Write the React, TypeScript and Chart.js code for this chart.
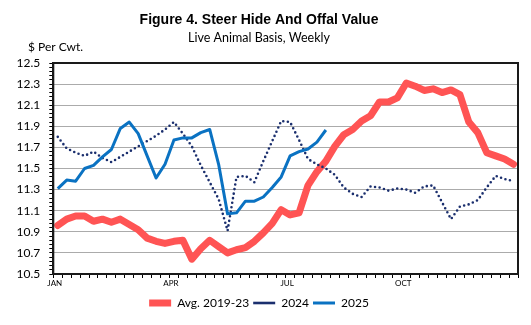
import React, { useEffect, useRef } from 'react';
import { Chart, registerables } from 'chart.js';

Chart.register(...registerables);

// ---- data (weekly, $ per cwt) ----
const monthLabels = ['JAN', 'APR', 'JUL', 'OCT'];
const monthWeekIndex = [0, 13, 26, 39];
const weekCount = 52;

const avg2019_23 = [
  10.96, 11.02, 11.05, 11.05, 11.0, 11.02, 10.99, 11.02, 10.97, 10.92,
  10.84, 10.81, 10.79, 10.81, 10.82, 10.64, 10.74, 10.82, 10.76, 10.7,
  10.73, 10.75, 10.81, 10.89, 10.98, 11.11, 11.06, 11.08, 11.34, 11.47,
  11.57, 11.71, 11.82, 11.87, 11.95, 12.0, 12.13, 12.13, 12.17, 12.31,
  12.28, 12.24, 12.255, 12.22, 12.245, 12.2, 11.94, 11.84, 11.65, 11.62,
  11.59, 11.54,
];

const y2024 = [
  11.8, 11.69, 11.65, 11.62, 11.66, 11.6, 11.56, 11.61, 11.66, 11.71,
  11.76, 11.81, 11.87, 11.94, 11.83, 11.71, 11.53, 11.37, 11.21, 10.91,
  11.42, 11.43, 11.37, 11.57, 11.76, 11.95, 11.94, 11.77, 11.59, 11.54,
  11.5, 11.44, 11.32, 11.26, 11.23, 11.33, 11.32, 11.29, 11.31, 11.3,
  11.27, 11.33, 11.34, 11.18, 11.02, 11.14, 11.16, 11.2, 11.32, 11.43,
  11.4, 11.38,
];

const y2025 = [
  11.31, 11.39, 11.38, 11.5, 11.53, 11.61, 11.68, 11.88, 11.94, 11.83,
  11.62, 11.41, 11.54, 11.77, 11.79, 11.79, 11.84, 11.87, 11.54, 11.07,
  11.08, 11.19, 11.19, 11.23, 11.32, 11.42, 11.62, 11.66, 11.685, 11.75,
  11.865,
];

const yMin = 10.5;
const yMax = 12.5;
const yMajorStep = 0.2;
const yMinorStep = 0.04;

const categories: string[] = Array.from({ length: weekCount }, (_, i) => {
  const k = monthWeekIndex.indexOf(i);
  return k >= 0 ? monthLabels[k] : '';
});

const isMajor = (v: number) => {
  const q = (v - yMin) / yMajorStep;
  return Math.abs(q - Math.round(q)) < 1e-6;
};

const framePlugin = {
  id: 'frame',
  afterDatasetsDraw(chart: any) {
    const { ctx, chartArea: a } = chart;
    ctx.save();
    ctx.strokeStyle = '#1a1a1a';
    ctx.lineWidth = 2;
    ctx.strokeRect(a.left, a.top, a.right - a.left, a.bottom - a.top);
    ctx.restore();
  },
  afterDraw(chart: any) {
    const { ctx } = chart;
    ctx.save();
    ctx.fillStyle = '#000';
    ctx.font = '12px Lato';
    ctx.textBaseline = 'middle';
    ctx.textAlign = 'left';
    ctx.fillText('$ Per Cwt.', 28, 47);
    ctx.restore();
  },
};

export default function App() {
  const ref = useRef<HTMLCanvasElement | null>(null);

  useEffect(() => {
    if (!ref.current) return;
    const chart = new Chart(ref.current, {
      type: 'line',
      data: {
        labels: categories,
        datasets: [
          {
            label: 'Avg. 2019-23',
            data: avg2019_23,
            borderColor: '#FF5454',
            backgroundColor: '#FF5454',
            borderWidth: 7,
            borderCapStyle: 'round',
            borderJoinStyle: 'round',
            pointRadius: 0,
            tension: 0,
            order: 3,
          },
          {
            label: '2024',
            data: y2024,
            borderColor: '#1B2F6E',
            backgroundColor: '#1B2F6E',
            borderWidth: 2.6,
            borderDash: [0, 4.6],
            borderCapStyle: 'round',
            pointRadius: 0,
            tension: 0,
            order: 2,
          },
          {
            label: '2025',
            data: y2025,
            borderColor: '#0A72C2',
            backgroundColor: '#0A72C2',
            borderWidth: 3,
            borderJoinStyle: 'round',
            pointRadius: 0,
            tension: 0,
            order: 1,
          },
        ] as any,
      },
      plugins: [framePlugin],
      options: {
        responsive: false,
        animation: false,
        layout: { padding: { top: 0, left: 0, right: 13, bottom: 6 } },
        plugins: {
          title: {
            display: true,
            text: 'Figure 4. Steer Hide And Offal Value',
            color: '#000',
            font: { family: "'Liberation Sans', Arial", size: 14, weight: 'bold' },
            padding: { top: 11.6, bottom: 1.8 },
          },
          subtitle: {
            display: true,
            text: 'Live Animal Basis, Weekly',
            color: '#000',
            font: { family: 'Lato', size: 12.5 },
            padding: { top: 0, bottom: 17.8 },
          },
          legend: {
            position: 'bottom',
            labels: {
              usePointStyle: true,
              pointStyle: 'line',
              pointStyleWidth: 22,
              color: '#000',
              font: { family: 'Lato', size: 12 },
              padding: 4,
              sort: (a: any, b: any) => a.datasetIndex - b.datasetIndex,
            },
          },
          tooltip: { enabled: false },
        },
        scales: {
          x: {
            type: 'category',
            offset: true,
            afterFit: (s: any) => {
              s.height = 19;
            },
            grid: {
              offset: true,
              drawOnChartArea: false,
              drawTicks: true,
              tickLength: 4,
              tickColor: '#000',
            },
            border: { display: true, color: '#1a1a1a', width: 2 },
            ticks: {
              autoSkip: false,
              maxRotation: 0,
              minRotation: 0,
              padding: 1,
              labelOffset: -3,
              color: '#000',
              font: { family: 'Lato', size: 8 },
            },
          },
          y: {
            min: yMin,
            max: yMax,
            afterFit: (s: any) => {
              s.width = 53.3;
            },
            grid: {
              color: (c: any) => (c.tick && isMajor(c.tick.value) ? '#ababab' : 'rgba(0,0,0,0)'),
              lineWidth: 1,
              drawTicks: true,
              tickLength: 4,
              tickColor: '#000',
            },
            border: { display: true, color: '#1a1a1a', width: 2 },
            ticks: {
              stepSize: yMinorStep,
              autoSkip: false,
              padding: 9,
              color: '#000',
              font: { family: 'Lato', size: 12 },
              callback: (v: any) => (isMajor(Number(v)) ? Number(v).toFixed(1) : ''),
            },
          },
        },
      } as any,
    });
    return () => chart.destroy();
  }, []);

  return (
    <div style={{ position: 'absolute', left: 0, top: 0, width: 531, height: 325 }}>
      <canvas ref={ref} width={531} height={325} />
    </div>
  );
}
